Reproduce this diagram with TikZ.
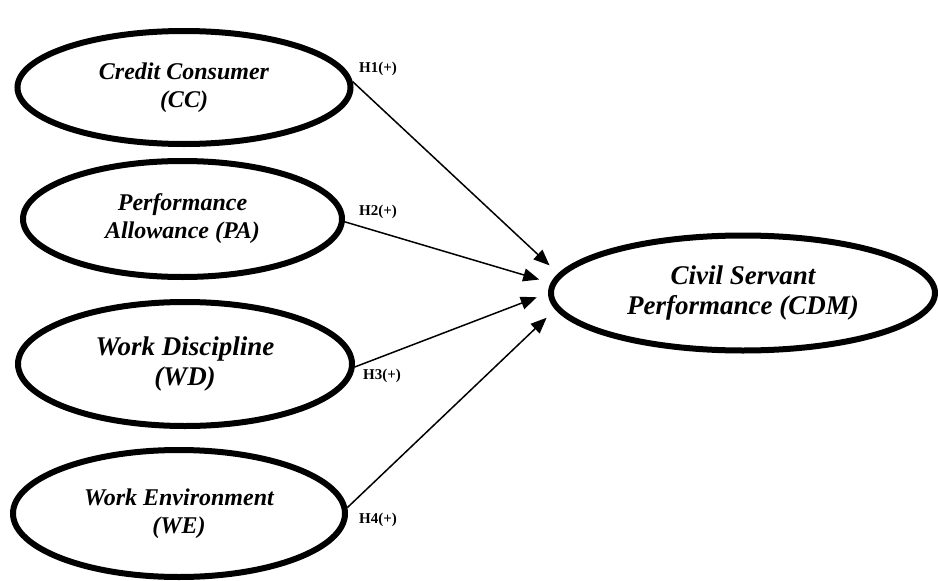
\documentclass[tikz,border=0pt]{standalone}
\usepackage{fontspec}
\setmainfont{Liberation Serif}
\usetikzlibrary{shapes.geometric, arrows.meta}

\tikzset{
    construct/.style={ellipse, draw, line width=6pt, align=center, inner sep=0pt,
        font=\bfseries\itshape\fontsize{24}{28}\selectfont},
    link/.style={-{Triangle[length=16pt, width=13pt]}, line width=1.5pt, shorten >=12pt},
    hyp/.style={font=\bfseries\fontsize{15}{18}\selectfont, inner sep=0pt}
}

\begin{document}
\begin{tikzpicture}[x=1pt, y=-1pt]
    \useasboundingbox (0, 0) rectangle (938, 581);

    \node[construct, minimum width=333pt, minimum height=113pt] (cc) at (184, 87.5) {Credit Consumer\\(CC)};
    \node[construct, minimum width=319pt, minimum height=116pt] (pa) at (182.5, 219) {Performance\\Allowance (PA)};
    \node[construct, minimum width=334pt, minimum height=124pt,
        font=\bfseries\itshape\fontsize{27}{30}\selectfont] (wd) at (185, 364) {Work Discipline\\(WD)};
    \node[construct, minimum width=332pt, minimum height=127pt] (we) at (179, 513.5) {Work Environment\\(WE)};

    \node[construct, minimum width=384pt, minimum height=115pt,
        font=\bfseries\itshape\fontsize{27}{30}\selectfont] (cdm) at (743, 293) {Civil Servant\\Performance (CDM)};

    \node[hyp] (h1) at (378, 69) {H1(+)};
    \node[hyp] (h2) at (378, 212) {H2(+)};
    \node[hyp] (h3) at (382, 376) {H3(+)};
    \node[hyp] (h4) at (378, 520) {H4(+)};

    \foreach \src/\a/\b in {cc/2/174, pa/-1/177, wd/-1/180, we/2/185}
        \draw[link] (\src.\a) -- (cdm.\b);
\end{tikzpicture}
\end{document}
